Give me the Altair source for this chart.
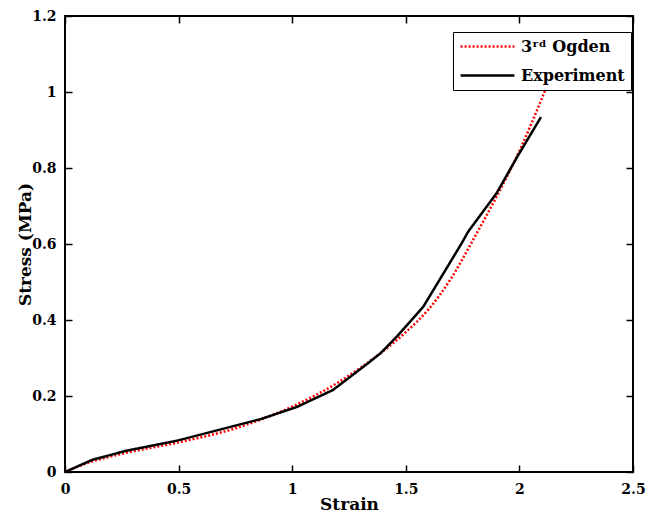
import altair as alt
import pandas as pd

# ---- data ----
series = ["3ʳᵈ Ogden", "Experiment"]

strain_fit = [0, 0.1, 0.25, 0.5, 0.75, 1.0, 1.2, 1.4, 1.5, 1.6, 1.7, 1.8, 1.9, 2.0, 2.1, 2.2]
stress_fit = [0, 0.024, 0.048, 0.078, 0.115, 0.172, 0.235, 0.318, 0.368, 0.428, 0.51, 0.615, 0.725, 0.845, 0.985, 1.14]

strain_exp = [0, 0.12, 0.27, 0.49, 0.86, 1.02, 1.18, 1.32, 1.39, 1.466, 1.576, 1.747, 1.774, 1.90, 1.99, 2.095]
stress_exp = [0, 0.032, 0.056, 0.082, 0.139, 0.171, 0.216, 0.28, 0.313, 0.36, 0.434, 0.603, 0.632, 0.734, 0.829, 0.934]

x_ticks = [0, 0.5, 1, 1.5, 2, 2.5]
y_ticks = [0, 0.2, 0.4, 0.6, 0.8, 1, 1.2]

df = pd.concat([
    pd.DataFrame({"strain": strain_fit, "stress": stress_fit,
                  "series": series[0], "ord": list(range(len(strain_fit)))}),
    pd.DataFrame({"strain": strain_exp, "stress": stress_exp,
                  "series": series[1], "ord": list(range(len(strain_exp)))}),
], ignore_index=True)

FONT = "DejaVu Serif"
TICK = 7

x_scale = alt.Scale(domain=[0, 2.5], nice=False, zero=False)
y_scale = alt.Scale(domain=[0, 1.2], nice=False, zero=False)

legend = alt.Legend(
    orient="none", legendX=388, legendY=16, title=None,
    symbolType="stroke", symbolSize=2900, symbolStrokeWidth=2.5,
    clipHeight=17, rowPadding=12, padding=6,
    fillColor="white", strokeColor="black",
    labelFont=FONT, labelFontWeight="bold", labelFontSize=16,
    labelColor="black", labelOffset=5, labelLimit=300,
)
color = alt.Color("series:N", scale=alt.Scale(domain=series, range=["#ff0000", "#000000"]),
                  legend=legend)
dash = alt.StrokeDash("series:N", scale=alt.Scale(domain=series, range=[[2, 2], [1, 0]]),
                      legend=legend)

axis_common = dict(domain=False, grid=False, tickSize=TICK, offset=-TICK,
                   tickColor="black", tickWidth=1.5, labelFlush=False,
                   labelFont=FONT, labelFontWeight="bold", labelFontSize=14, labelColor="black",
                   titleFont=FONT, titleFontWeight="bold", titleFontSize=17, titleColor="black")

x_bottom = alt.Axis(orient="bottom", values=x_ticks, format="~g", title="Strain",
                    labelPadding=10, titlePadding=0, **axis_common)
y_left = alt.Axis(orient="left", values=y_ticks, format="~g", title="Stress (MPa)",
                  labelPadding=9, titlePadding=-3, **axis_common)
x_top = alt.Axis(orient="top", values=x_ticks, labels=False, title=None, **axis_common)
y_right = alt.Axis(orient="right", values=y_ticks, labels=False, title=None, **axis_common)

base = alt.Chart(df)

fit_line = base.transform_filter(alt.datum.series == series[0]).mark_line(
    strokeWidth=2.5, interpolate="monotone", strokeCap="butt"
).encode(
    x=alt.X("strain:Q", scale=x_scale, axis=x_bottom),
    y=alt.Y("stress:Q", scale=y_scale, axis=y_left),
    color=color, strokeDash=dash, order="ord:Q",
)

exp_line = base.transform_filter(alt.datum.series == series[1]).mark_line(
    strokeWidth=2.5
).encode(
    x=alt.X("strain:Q", scale=x_scale, axis=None),
    y=alt.Y("stress:Q", scale=y_scale, axis=None),
    color=color, strokeDash=dash, order="ord:Q",
)

frame_axes = base.mark_point(opacity=0).encode(
    x=alt.X("strain:Q", scale=x_scale, axis=x_top),
    y=alt.Y("stress:Q", scale=y_scale, axis=y_right),
)

chart = alt.layer(fit_line, exp_line, frame_axes).resolve_axis(
    x="independent", y="independent"
).properties(
    width=568, height=456,
    autosize=alt.AutoSizeParams(type="none"),
    padding={"left": 57, "top": 8, "right": 15, "bottom": 43},
    background="white",
).configure_view(
    stroke="black", strokeWidth=2, fill=None
)

chart.save("out.html", embed_options={"renderer": "svg", "actions": False})
